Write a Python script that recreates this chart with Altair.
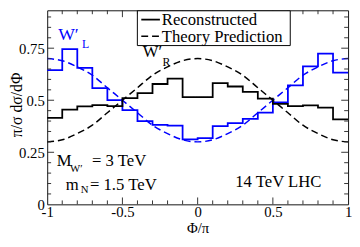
import altair as alt
import pandas as pd

# ---------------- data ----------------
EDGES = [-1.0, -0.9, -0.8, -0.7, -0.6, -0.5, -0.4, -0.3, -0.2, -0.1, 0.0,
         0.1, 0.2, 0.3, 0.4, 0.5, 0.6, 0.7, 0.8, 0.9, 1.0]
RECO_L = [0.645, 0.745, 0.656, 0.558, 0.500, 0.452, 0.400, 0.382, 0.378, 0.312,
          0.318, 0.376, 0.390, 0.410, 0.440, 0.490, 0.571, 0.663, 0.724, 0.633]
RECO_R = [0.415, 0.455, 0.471, 0.477, 0.472, 0.510, 0.534, 0.578, 0.604, 0.515,
          0.515, 0.582, 0.566, 0.540, 0.508, 0.482, 0.472, 0.475, 0.465, 0.408]
THEORY_L = [0.70, 0.69, 0.66, 0.62, 0.56, 0.50, 0.44, 0.38, 0.34, 0.31, 0.30,
            0.31, 0.34, 0.38, 0.44, 0.50, 0.56, 0.62, 0.66, 0.69, 0.70]
THEORY_R = [0.30, 0.31, 0.34, 0.38, 0.44, 0.50, 0.56, 0.62, 0.66, 0.69, 0.70,
            0.69, 0.66, 0.62, 0.56, 0.50, 0.44, 0.38, 0.34, 0.31, 0.30]
SERIES = ["L", "R"]
KINDS = ["Reconstructed", "Theory Prediction"]
X_LABELS = [-1, -0.5, 0, 0.5, 1]
Y_LABELS = [0, 0.25, 0.5, 0.75]
X_MAJOR = [-0.5, 0, 0.5]
X_MINOR = [-0.9, -0.8, -0.7, -0.6, -0.4, -0.3, -0.2, -0.1, 0.1, 0.2, 0.3, 0.4,
           0.6, 0.7, 0.8, 0.9]
Y_MAJOR = [0.25, 0.5, 0.75]
Y_MINOR = [0.05, 0.1, 0.15, 0.2, 0.3, 0.35, 0.4, 0.45, 0.55, 0.6, 0.65, 0.7,
           0.8, 0.85, 0.9]

# ---------------- tables ----------------
rows = []
for s, vals in zip(SERIES, [RECO_L, RECO_R]):
    for i, v in enumerate(vals):
        rows.append({"x": EDGES[i], "y": v, "series": s, "kind": KINDS[0]})
    rows.append({"x": EDGES[-1], "y": vals[-1], "series": s, "kind": KINDS[0]})
hist = pd.DataFrame(rows)

rows = []
for s, vals in zip(SERIES, [THEORY_L, THEORY_R]):
    for xv, v in zip(EDGES, vals):
        rows.append({"x": xv, "y": v, "series": s, "kind": KINDS[1]})
theory = pd.DataFrame(rows)

W, H = 307, 198
FONT = "Liberation Serif"
BLUE = "#0000ff"
DASH = [7, 4]

XS = alt.Scale(domain=[-1, 1], nice=False, zero=False)
YS = alt.Scale(domain=[0, 0.932], nice=False, zero=False)
CS = alt.Scale(domain=SERIES, range=[BLUE, "#000000"])
DS = alt.Scale(domain=KINDS, range=[[1, 0], DASH])

xaxis = alt.Axis(values=X_LABELS, ticks=False, domain=False, grid=False,
                 labelFont=FONT, labelFontSize=15, labelColor="black",
                 labelPadding=0, labelFlush=False, labelOverlap=False,
                 labelExpr="'' + datum.value",
                 title="Φ/π", titleFont=FONT, titleFontSize=15,
                 titleFontWeight="normal", titleColor="black",
                 titleY=29, titleBaseline="alphabetic")
yaxis = alt.Axis(values=Y_LABELS, ticks=False, domain=False, grid=False,
                 labelFont=FONT, labelFontSize=15, labelColor="black",
                 labelPadding=3, labelFlush=False, labelOverlap=False,
                 labelExpr="'' + datum.value",
                 title="π/σ dσ/dΦ", titleFont=FONT, titleFontSize=16,
                 titleFontWeight="normal", titleColor="black",
                 titleX=-31, titleY=96, titleBaseline="middle")

hist_layer = alt.Chart(hist).mark_line(interpolate="step-after", strokeWidth=1.8).encode(
    x=alt.X("x:Q", scale=XS, axis=xaxis),
    y=alt.Y("y:Q", scale=YS, axis=yaxis),
    color=alt.Color("series:N", scale=CS, legend=None),
    strokeDash=alt.StrokeDash("kind:N", scale=DS, legend=None),
)
theory_layer = alt.Chart(theory).mark_line(interpolate="monotone", strokeWidth=1.5).encode(
    x=alt.X("x:Q", scale=XS, axis=xaxis),
    y=alt.Y("y:Q", scale=YS, axis=yaxis),
    color=alt.Color("series:N", scale=CS, legend=None),
    strokeDash=alt.StrokeDash("kind:N", scale=DS, legend=None),
)

TICK_COLOR = "#333333"


def xticks(vals, length):
    df = pd.DataFrame({"v": vals})
    base = alt.Chart(df).mark_rule(color=TICK_COLOR, strokeWidth=1)
    bot = base.encode(x=alt.X("v:Q", scale=XS, axis=xaxis),
                      y=alt.value(H), y2=alt.value(H - length))
    top = base.encode(x=alt.X("v:Q", scale=XS, axis=xaxis),
                      y=alt.value(0), y2=alt.value(length))
    return [bot, top]


def yticks(vals, length):
    df = pd.DataFrame({"v": vals})
    base = alt.Chart(df).mark_rule(color=TICK_COLOR, strokeWidth=1)
    left = base.encode(y=alt.Y("v:Q", scale=YS, axis=yaxis),
                       x=alt.value(0), x2=alt.value(length))
    right = base.encode(y=alt.Y("v:Q", scale=YS, axis=yaxis),
                        x=alt.value(W), x2=alt.value(W - length))
    return [left, right]


ticks = xticks(X_MAJOR, 7) + xticks(X_MINOR, 4) + yticks(Y_MAJOR, 7) + yticks(Y_MINOR, 4)

# annotations
BLUE_TXT = ["W′", "L"]
BLUE_X = [-0.859, -0.745]
BLUE_Y = [0.814, 0.772]
BLUE_FS = [18, 12]
BLACK_TXT = ["W′", "R", "M", "W′", "= 3 TeV", "m", "N", "= 1.5 TeV", "14 TeV LHC"]
BLACK_X = [-0.300, -0.207, -0.888, -0.807, -0.522, -0.833, -0.751, -0.494, 0.536]
BLACK_Y = [0.730, 0.685, 0.207, 0.169, 0.207, 0.093, 0.069, 0.093, 0.107]
BLACK_FS = [17, 12, 17, 11, 17, 17, 11, 17, 17]

blue_txt = alt.Chart(pd.DataFrame({"t": BLUE_TXT, "x": BLUE_X, "y": BLUE_Y, "fs": BLUE_FS})).mark_text(
    font=FONT, color=BLUE, baseline="middle", align="center").encode(
    x=alt.X("x:Q", scale=XS, axis=xaxis), y=alt.Y("y:Q", scale=YS, axis=yaxis),
    text="t:N", size=alt.Size("fs:Q", scale=None))
black_txt = alt.Chart(pd.DataFrame({"t": BLACK_TXT, "x": BLACK_X, "y": BLACK_Y, "fs": BLACK_FS})).mark_text(
    font=FONT, color="black", baseline="middle", align="center").encode(
    x=alt.X("x:Q", scale=XS, axis=xaxis), y=alt.Y("y:Q", scale=YS, axis=yaxis),
    text="t:N", size=alt.Size("fs:Q", scale=None))

# legend box (decoration, in pixels of the plot area)
one = pd.DataFrame({"k": [0]})
leg_box = alt.Chart(one).mark_rect(fill="white", stroke="black", strokeWidth=1).encode(
    x=alt.value(92), x2=alt.value(248), y=alt.value(0.5), y2=alt.value(36))
leg_solid = alt.Chart(one).mark_rule(color="black", strokeWidth=1.8).encode(
    x=alt.value(96), x2=alt.value(115), y=alt.value(9.5))
leg_dash = alt.Chart(one).mark_rule(color="black", strokeWidth=1.5, strokeDash=DASH).encode(
    x=alt.value(96), x2=alt.value(115), y=alt.value(26.5))
leg_t1 = alt.Chart(one).mark_text(font=FONT, fontSize=17, align="left", baseline="middle",
                                  color="black", text=KINDS[0]).encode(
    x=alt.value(117), y=alt.value(9.5))
leg_t2 = alt.Chart(one).mark_text(font=FONT, fontSize=17, align="left", baseline="middle",
                                  color="black", text=KINDS[1]).encode(
    x=alt.value(117), y=alt.value(27))

chart = alt.layer(theory_layer, hist_layer, *ticks, blue_txt, black_txt,
                  leg_box, leg_solid, leg_dash, leg_t1, leg_t2).properties(
    width=W, height=H,
    autosize=alt.AutoSizeParams(type="none"),
    padding={"left": 40, "top": 0, "right": 4, "bottom": 32},
).configure_view(stroke="#111111", strokeWidth=1)

chart.save("out.html", embed_options={"renderer": "svg", "actions": False})
